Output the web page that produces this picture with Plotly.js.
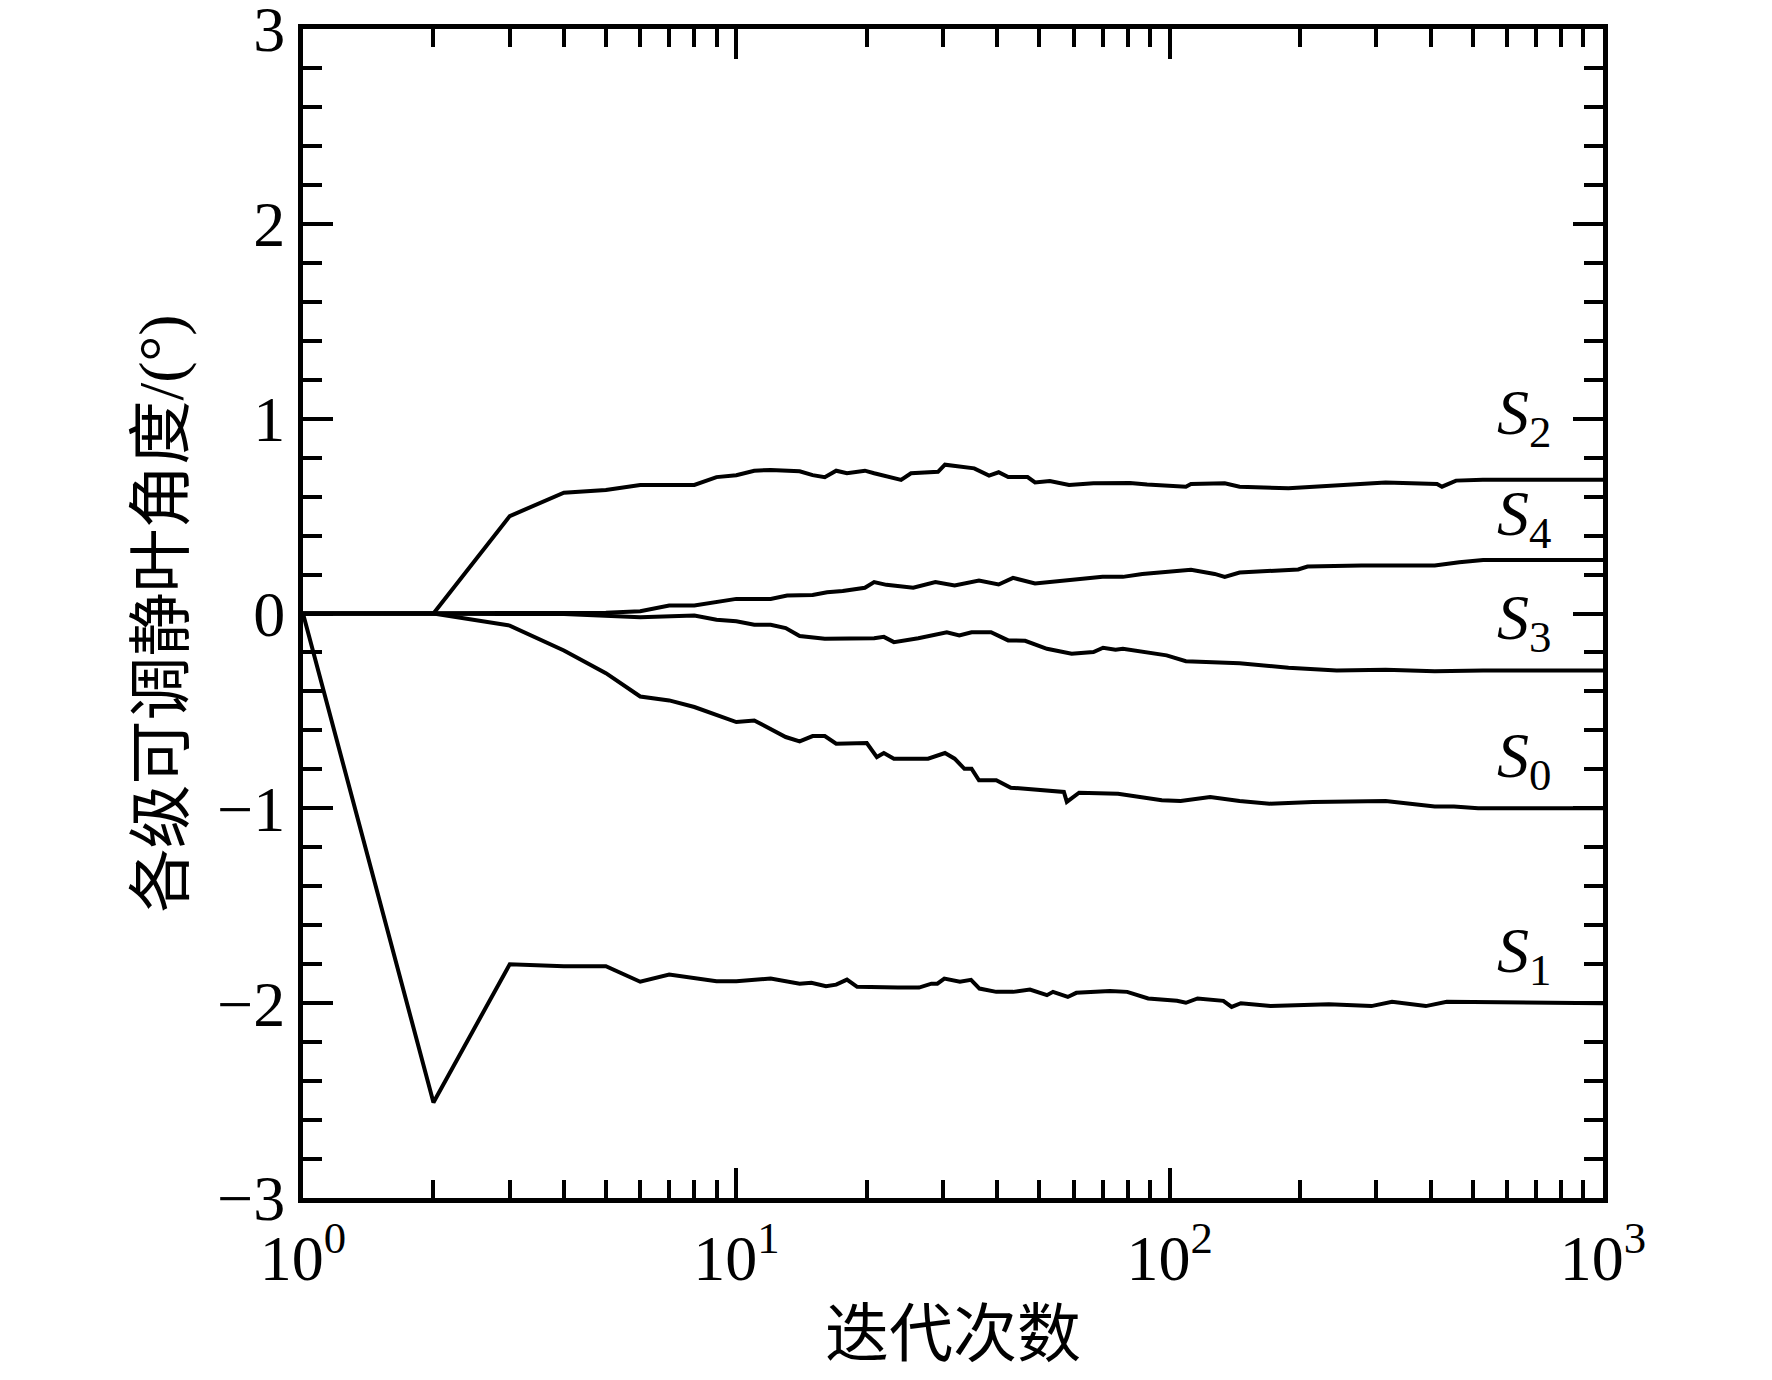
<!DOCTYPE html>
<html>
<head>
<meta charset="utf-8">
<script src="https://cdn.plot.ly/plotly-3.0.1.min.js"></script>
<style>
  body{margin:0;background:#fff}
  #plot{width:1772px;height:1380px}
</style>
</head>
<body>
<div id="plot"></div>
<script>
"use strict"

// iterations and blade angles
const s0X = [1,2,3,4,5,6,7,8,10,11,13,14,15,16,17,18.3,20,21.1,21.9,23.1,27.7,30.3,31.9,33.6,34.9,36.3,39.8,43,51.5,57,57.9,61.8,76,95.9,106,124,145,170,214,277,315,409,453,515,1000]
const s0Y = [0,0,-0.062,-0.19,-0.306,-0.426,-0.446,-0.48,-0.557,-0.549,-0.634,-0.656,-0.629,-0.629,-0.668,-0.665,-0.665,-0.737,-0.716,-0.745,-0.745,-0.716,-0.745,-0.797,-0.797,-0.856,-0.856,-0.894,-0.905,-0.916,-0.967,-0.92,-0.925,-0.959,-0.962,-0.942,-0.962,-0.976,-0.967,-0.967,-0.962,-0.99,-0.99,-1.0,-1.0]

const s1X = [1,2,3,4,5,6,7,9,10,12,14,14.9,16.1,17,18,19,23.6,26.4,28.2,29.1,30.2,32.8,34.8,36.4,39.8,43.5,47.6,52.1,53.8,58.2,60.9,72.8,79.8,89.2,104,109,116,133,139,146,171,233,292,326,390,436,1000]
const s1Y = [0,-2.51,-1.80,-1.81,-1.81,-1.89,-1.853,-1.887,-1.887,-1.874,-1.90,-1.895,-1.913,-1.905,-1.879,-1.916,-1.92,-1.92,-1.90,-1.90,-1.874,-1.89,-1.88,-1.925,-1.942,-1.942,-1.93,-1.959,-1.942,-1.968,-1.947,-1.938,-1.942,-1.976,-1.988,-1.998,-1.976,-1.988,-2.019,-2.0,-2.015,-2.005,-2.015,-1.993,-2.015,-1.993,-2.0]

const s2X = [1,2,3,4,5,6,7,8,9,10,11,12,14,15,16,17,18,19.8,20.8,24,25.3,29.2,30.3,34,35.4,38.3,40.3,42.4,47,48.9,52.9,58.6,66.7,81,88.7,109,112,134,145,188,243,315,414,425,458,528,1000]
const s2Y = [0,0,0.50,0.62,0.634,0.66,0.66,0.66,0.70,0.71,0.733,0.737,0.73,0.71,0.70,0.733,0.72,0.733,0.72,0.686,0.72,0.727,0.764,0.75,0.745,0.708,0.725,0.70,0.70,0.673,0.68,0.66,0.668,0.67,0.662,0.651,0.665,0.668,0.651,0.643,0.66,0.673,0.665,0.651,0.682,0.686,0.686]

const s3X = [1,2,4,6,8,9,10,11,12,13,14,16,18.3,20.8,21.9,23.1,26.3,30.6,32.7,34.9,38.7,42.4,46.4,52.1,59.4,66.7,70.2,75,78,88.7,98.4,109,131,145,188,243,315,409,529,1000]
const s3Y = [0,0,-0.003,-0.019,-0.01,-0.032,-0.04,-0.058,-0.058,-0.075,-0.116,-0.13,-0.127,-0.127,-0.12,-0.147,-0.127,-0.096,-0.113,-0.096,-0.096,-0.138,-0.14,-0.181,-0.207,-0.198,-0.176,-0.186,-0.181,-0.198,-0.215,-0.245,-0.25,-0.255,-0.279,-0.292,-0.289,-0.296,-0.292,-0.292]

const s4X = [1,2,3,4,5,6,7,8,9.2,10,12,13.1,15,16.2,17.6,18.3,19.8,20.8,22.2,25.6,28.8,31.9,36.3,40.3,43.5,48.9,60.1,70,78,86.5,112,127,134,145,198,208,277,409,466,529,1000]
const s4Y = [0,0,0,0,0.004,0.012,0.041,0.041,0.063,0.075,0.075,0.092,0.095,0.109,0.115,0.121,0.132,0.161,0.147,0.132,0.161,0.144,0.169,0.149,0.183,0.154,0.176,0.188,0.188,0.203,0.224,0.203,0.188,0.21,0.226,0.241,0.246,0.246,0.263,0.275,0.275]

// curve labels, placed at the right end of each curve
const labelName = ["2","4","3","0","1"]
const labelY = [1.01,0.49,-0.045,-0.75,-1.755]

const xTickVals = [1,10,100,1000]
const xTickText = ["10<sup>0</sup>","10<sup>1</sup>","10<sup>2</sup>","10<sup>3</sup>"]
const yTickVals = [-3,-2,-1,0,1,2,3]

const serif = "Liberation Serif, Times New Roman, Noto Sans CJK SC, serif"

const line = {color:"#000", width:4}
const series = [[s0X,s0Y],[s1X,s1Y],[s2X,s2Y],[s3X,s3Y],[s4X,s4Y]]
const data = series.map(v=>({
  x: v[0],
  y: v[1],
  mode: "lines",
  type: "scatter",
  line: line,
  hoverinfo: "skip",
}))

const annotations = labelName.map((t,i)=>({
  xref: "paper",
  yref: "y",
  x: 0.917,
  y: labelY[i],
  xanchor: "left",
  yanchor: "middle",
  text: "<i>S</i><sub>"+t+"</sub>",
  showarrow: false,
  font: {family: serif, size: 64, color: "#000"},
}))

const axisCommon = {
  showline: true,
  linecolor: "#000",
  linewidth: 5,
  mirror: "allticks",
  ticks: "inside",
  ticklen: 30,
  tickwidth: 4,
  tickcolor: "#000",
  showgrid: false,
  zeroline: false,
  ticklabeloverflow: "allow",
  tickfont: {family: serif, size: 64, color: "#000"},
}

const layout = {
  width: 1772,
  height: 1380,
  showlegend: false,
  paper_bgcolor: "#fff",
  plot_bgcolor: "#fff",
  margin: {l: 303, r: 169, t: 29, b: 182, pad: 0},
  xaxis: Object.assign({}, axisCommon, {
    type: "log",
    range: [0, 3],
    tickmode: "array",
    tickvals: xTickVals,
    ticktext: xTickText,
    minor: {dtick: "D1", ticks: "inside", ticklen: 18, tickwidth: 4, tickcolor: "#000", showgrid: false},
    title: {text: "迭代次数", font: {family: serif, size: 64, color: "#000"}, standoff: 20},
  }),
  yaxis: Object.assign({}, axisCommon, {
    range: [-3, 3],
    tickmode: "array",
    tickvals: yTickVals,
    minor: {tickmode: "linear", tick0: 0, dtick: 0.2, ticks: "inside", ticklen: 19, tickwidth: 4, tickcolor: "#000", showgrid: false},
    title: {text: "各级可调静叶角度/(°)", font: {family: serif, size: 64, color: "#000"}, standoff: 14},
  }),
  annotations: annotations,
}

Plotly.newPlot("plot", data, layout, {
  displayModeBar: false,
  staticPlot: true,
})
</script>
</body>
</html>
